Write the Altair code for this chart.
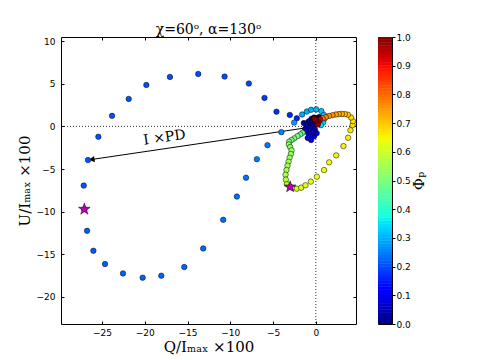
import altair as alt
import numpy as np
import pandas as pd

# ---------------- data ----------------
# off-pulse points near the origin (dark blue)
navy_q = [-1.40, -1.10, -0.90, -1.25, -1.10, -0.80, -0.60, -0.20, -0.95, -0.55, -0.40, -0.10, -0.60, 0.10, -0.30]
navy_u = [0.40, 0.10, 0.45, -0.30, -0.60, -0.90, -1.30, -1.15, -1.35, -1.60, -0.70, -0.40, -0.20, -0.80, 0.20]
navy_phi = [0.04, 0.05, 0.03, 0.06, 0.07, 0.08, 0.08, 0.07, 0.09, 0.09, 0.06, 0.05, 0.04, 0.07, 0.03]

# dense dark blob at the origin
blob_q = [-0.80, -0.50, -0.20, 0.10, 0.35, -0.60, -0.20, 0.20, -0.90, 0.40, 0.00, -0.35]
blob_u = [0.60, 0.90, 1.05, 0.95, 0.75, 0.30, 0.50, 0.30, 0.00, 1.10, 0.70, 0.75]
blob_phi = [0.01, 0.00, 0.02, 0.01, 0.00, 0.02, 0.01, 0.02, 0.02, 0.00, 0.01, 0.02]

# the big loop (blue)
loop_q = [-2.22, -3.04, -4.60, -6.00, -7.83, -10.67, -13.75, -17.06, -19.82, -21.88, -23.83, -25.43,
          -26.64, -27.14, -27.07, -26.75, -26.01, -24.65, -22.55, -20.25, -18.07, -15.38, -13.17,
          -10.83, -9.23, -8.16, -6.89, -5.65, -4.03]
loop_u = [0.95, 1.35, 1.73, 3.35, 5.03, 5.85, 6.16, 5.81, 4.87, 3.23, 1.24, -1.22,
          -3.95, -6.95, -9.72, -12.26, -14.60, -16.16, -17.26, -17.76, -17.53, -16.51, -14.33,
          -10.97, -8.24, -6.02, -3.85, -2.20, -0.67]
loop_phi = [0.160, 0.165, 0.170, 0.185, 0.195, 0.200, 0.200, 0.200, 0.200, 0.205, 0.205, 0.205,
            0.210, 0.210, 0.210, 0.215, 0.215, 0.215, 0.220, 0.220, 0.220, 0.225, 0.225,
            0.230, 0.235, 0.240, 0.245, 0.245, 0.250]

# light-blue arc above the origin
arc_q = [-2.53, -1.60, -1.05, -0.55, 0.05, 0.65, 0.95, 0.97, 0.85, 0.60]
arc_u = [0.45, 1.40, 1.75, 1.95, 2.00, 1.80, 1.35, 0.85, 0.45, 0.15]
arc_phi = [0.28, 0.29, 0.295, 0.30, 0.305, 0.31, 0.315, 0.32, 0.33, 0.34]

# green -> yellow chain
chain_q = [-1.55, -1.83, -2.14, -2.53, -2.84, -3.12, -3.15, -3.00, -2.84, -2.92, -3.07, -3.19, -3.31,
           -3.43, -3.54, -3.50, -3.39, -3.00, -2.77, -2.22, -1.71, -1.21, -0.58, 0.12, 0.97, 1.56,
           2.38, 3.23, 3.78, 4.05, 4.30, 4.35, 4.12]
chain_u = [-0.75, -0.94, -1.14, -1.41, -1.60, -1.80, -2.11, -2.42, -2.81, -3.24, -3.68, -4.15, -4.61,
           -5.12, -5.67, -6.25, -6.80, -7.10, -7.19, -7.31, -7.19, -6.91, -6.48, -5.90, -5.12, -4.22,
           -3.40, -2.31, -1.33, -0.45, 0.15, 0.62, 1.05]
chain_phi = [0.47, 0.48, 0.49, 0.50, 0.505, 0.51, 0.515, 0.52, 0.525, 0.53, 0.54, 0.545, 0.55,
             0.555, 0.56, 0.57, 0.58, 0.59, 0.60, 0.61, 0.62, 0.625, 0.63, 0.635, 0.64, 0.645,
             0.65, 0.655, 0.66, 0.665, 0.67, 0.675, 0.68]

# orange track back to the origin
orange_q = [3.75, 3.40, 3.05, 2.70, 2.35, 1.95, 1.55, 1.17, 0.80]
orange_u = [1.38, 1.45, 1.47, 1.45, 1.40, 1.32, 1.22, 1.09, 0.95]
orange_phi = [0.70, 0.71, 0.72, 0.73, 0.74, 0.75, 0.76, 0.77, 0.79]

# dark red points at the origin
red_q = [0.50, 0.30, 0.23, 0.05, -0.15]
red_u = [0.80, 0.50, 0.23, 0.70, 0.90]
red_phi = [0.93, 0.96, 0.98, 0.99, 1.00]

# magenta stars
star_q = [-27.07, -3.00]
star_u = [-9.72, -7.10]

# arrow I x PD
arrow_q0, arrow_u0 = [0.0], [0.0]
arrow_q1, arrow_u1 = [-26.2], [-3.88]
arrow_label = ["I ×PD"]
label_q, label_u = [-17.7], [-1.33]

# axes
x_domain = [-29.8, 4.7]
y_domain = [-23.2, 10.5]
x_ticks = [-25, -20, -15, -10, -5, 0]
y_ticks = [-20, -15, -10, -5, 0, 5, 10]
cb_ticks = [0.0, 0.1, 0.2, 0.3, 0.4, 0.5, 0.6, 0.7, 0.8, 0.9, 1.0]

# ---------------- jet colour map ----------------
jet_stops = [0.0, 0.11, 0.125, 0.34, 0.35, 0.375, 0.64, 0.65, 0.66, 0.89, 0.91, 1.0]


def jet(v):
    r = np.interp(v, [0, 0.35, 0.66, 0.89, 1], [0, 0, 1, 1, 0.5])
    g = np.interp(v, [0, 0.125, 0.375, 0.64, 0.91, 1], [0, 0, 1, 1, 0, 0])
    b = np.interp(v, [0, 0.11, 0.34, 0.65, 1], [0.5, 1, 1, 0, 0])
    return "#%02x%02x%02x" % tuple(int(round(c * 255)) for c in (r, g, b))


color_scale = alt.Scale(type="linear", domain=jet_stops, range=[jet(s) for s in jet_stops],
                        interpolate="rgb")

# five-pointed star symbol (unit box -1..1)
STAR = ("M0,-1L0.2245,-0.309L0.9511,-0.309L0.3633,0.118L0.5878,0.809L0,0.382"
        "L-0.5878,0.809L-0.3633,0.118L-0.9511,-0.309L-0.2245,-0.309Z")

# ---------------- tables ----------------
pts = pd.DataFrame({
    "q": navy_q + blob_q + loop_q + arc_q + chain_q + orange_q + red_q,
    "u": navy_u + blob_u + loop_u + arc_u + chain_u + orange_u + red_u,
    "phi": navy_phi + blob_phi + loop_phi + arc_phi + chain_phi + orange_phi + red_phi,
}).sort_values("phi", kind="stable").reset_index(drop=True)
stars = pd.DataFrame({"q": star_q, "u": star_u})
arrow = pd.DataFrame({"q0": arrow_q0, "u0": arrow_u0, "q1": arrow_q1, "u1": arrow_u1})
label = pd.DataFrame({"q": label_q, "u": label_u, "t": arrow_label})

n_cb = 100
cb_lo = [i / n_cb for i in range(n_cb)]
cb = pd.DataFrame({"lo": cb_lo, "hi": [min(1.0, v + 1.15 / n_cb) for v in cb_lo],
                   "mid": [v + 0.5 / n_cb for v in cb_lo]})

# ---------------- chart ----------------
W, H = 295, 287
TK = 3
xs = alt.Scale(domain=x_domain, nice=False, zero=False)
ys = alt.Scale(domain=y_domain, nice=False, zero=False)

common = dict(domain=False, grid=False, ticks=True, tickSize=TK, offset=-TK, tickColor="black",
              labelFont="DejaVu Sans", labelFontSize=9, labelColor="black",
              titleFont="DejaVu Serif", titleFontSize=15, titleFontWeight="normal",
              titleColor="black")

ax_bottom = alt.Axis(orient="bottom", values=x_ticks, title="Q/Iₘₐₓ ×100", labelPadding=4,
                     titlePadding=2, **common)
ax_left = alt.Axis(orient="left", values=y_ticks, title="U/Iₘₐₓ ×100", labelPadding=6,
                   titlePadding=4, **common)
ax_top = alt.Axis(orient="top", values=x_ticks, labels=False, title=None, **common)
ax_right = alt.Axis(orient="right", values=y_ticks, labels=False, title=None, **common)

dotted = dict(color="black", strokeDash=[1, 2], strokeWidth=1, opacity=0.8)
zero_v = alt.Chart(pd.DataFrame({"q": [0]})).mark_rule(**dotted).encode(
    x=alt.X("q:Q", scale=xs, axis=ax_top))
zero_h = alt.Chart(pd.DataFrame({"u": [0]})).mark_rule(**dotted).encode(
    y=alt.Y("u:Q", scale=ys, axis=ax_right))

arrow_line = alt.Chart(arrow).mark_rule(color="black", strokeWidth=1).encode(
    x=alt.X("q0:Q", scale=xs, axis=None), y=alt.Y("u0:Q", scale=ys, axis=None),
    x2="q1:Q", y2="u1:Q")
arrow_head = alt.Chart(arrow).mark_point(shape="triangle-left", filled=True, size=40, angle=352,
                                         color="black", opacity=1).encode(
    x=alt.X("q1:Q", scale=xs, axis=None), y=alt.Y("u1:Q", scale=ys, axis=None))
arrow_text = alt.Chart(label).mark_text(angle=352, font="DejaVu Serif", fontSize=14,
                                        color="black").encode(
    x=alt.X("q:Q", scale=xs, axis=None), y=alt.Y("u:Q", scale=ys, axis=None), text="t:N")

points = alt.Chart(pts).mark_circle(size=30, stroke="black", strokeWidth=0.5, opacity=1).encode(
    x=alt.X("q:Q", scale=xs, axis=ax_bottom),
    y=alt.Y("u:Q", scale=ys, axis=ax_left),
    color=alt.Color("phi:Q", scale=color_scale, legend=None))

star_marks = alt.Chart(stars).mark_point(shape=STAR, filled=True, size=150, fill="#bf00bf",
                                         stroke="black", strokeWidth=0.5, opacity=1).encode(
    x=alt.X("q:Q", scale=xs, axis=None), y=alt.Y("u:Q", scale=ys, axis=None))

main = alt.layer(zero_v, zero_h, arrow_line, arrow_head, arrow_text, points, star_marks).resolve_axis(
    x="independent", y="independent").properties(
    width=W, height=H,
    title=alt.Title("χ=60ᵒ, α=130ᵒ", font="DejaVu Serif", fontSize=14, fontWeight="normal",
                    color="black", offset=0))

colorbar = alt.Chart(cb).mark_rect().encode(
    y=alt.Y("lo:Q", scale=alt.Scale(domain=[0, 1], nice=False, zero=False),
            axis=alt.Axis(orient="right", values=cb_ticks, format=".1f", title="Φₚ",
                          titleAngle=270, domain=False, grid=False, tickSize=3, tickColor="black",
                          labelPadding=1, labelFont="DejaVu Sans", labelFontSize=9,
                          labelColor="black", titleFont="DejaVu Serif", titleFontSize=15,
                          titleFontWeight="normal", titleColor="black", titlePadding=16)),
    y2="hi:Q",
    color=alt.Color("mid:Q", scale=color_scale, legend=None),
).properties(width=14, height=H)

chart = alt.hconcat(main, colorbar, spacing=19).resolve_scale(color="independent").properties(
    padding={"left": 8, "top": 14, "right": 5, "bottom": 5}
).configure_view(stroke="black", strokeWidth=1)

chart.save("out.html", embed_options={"renderer": "svg", "actions": False})
